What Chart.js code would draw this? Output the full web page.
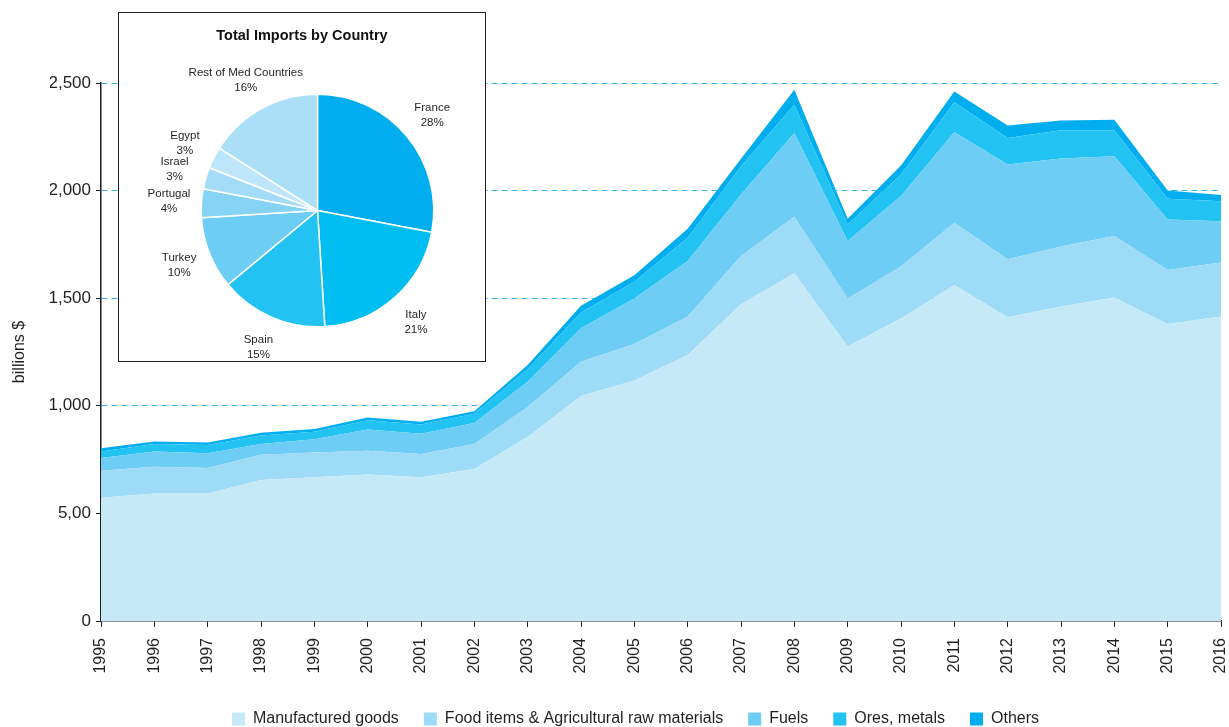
<!DOCTYPE html>
<html>
<head>
<meta charset="utf-8">
<title>Imports by product group</title>
<script src="https://cdn.jsdelivr.net/npm/chart.js@4.4.1/dist/chart.umd.min.js"></script>
<style>
    html, body { margin: 0; padding: 0; background: #fff; }
    #wrap { position: relative; width: 1229px; height: 727px; overflow: hidden; }
    #mainChart { position: absolute; left: 0; top: 0; }
    #pieBox {
        position: absolute; left: 118px; top: 12px;
        width: 366px; height: 348px;
        border: 1.5px solid #231f20; background: #fff;
    }
    #pieTitle {
        position: absolute; left: 0; top: 14px; width: 100%;
        text-align: center; font: bold 14.5px "Liberation Sans", Arial, sans-serif; color: #111;
    }
    #pieChart { position: absolute; left: 0; top: 0; }
</style>
</head>
<body>
<div id="wrap">
    <canvas id="mainChart" width="1229" height="727"></canvas>
    <div id="pieBox">
        <canvas id="pieChart" width="366" height="348"></canvas>
        <div id="pieTitle">Total Imports by Country</div>
    </div>
</div>
<script>
// stacked area: billions $
const years = ["1995", "1996", "1997", "1998", "1999", "2000", "2001", "2002", "2003", "2004", "2005",
    "2006", "2007", "2008", "2009", "2010", "2011", "2012", "2013", "2014", "2015", "2016"];
const manufactured = [573, 593, 593, 655, 668, 681, 668, 706, 855, 1045, 1117, 1236, 1472, 1616, 1276, 1406, 1561, 1411, 1462, 1503, 1380, 1415];
const foodAgri = [125, 124, 118, 118, 115, 110, 108, 116, 139, 160, 170, 179, 224, 263, 223, 241, 290, 270, 278, 286, 251, 251];
const fuels = [59, 71, 68, 49, 61, 99, 94, 98, 118, 155, 212, 258, 286, 389, 267, 328, 420, 440, 409, 371, 235, 191];
const oresMetals = [31, 34, 39, 40, 35, 43, 43, 43, 59, 74, 77, 108, 131, 131, 77, 100, 139, 124, 131, 120, 96, 94];
const others = [15, 12, 12, 13, 13, 13, 13, 12, 19, 31, 31, 42, 35, 70, 26, 42, 51, 57, 46, 49, 39, 29];
const yTickLabels = ["0", "5,00", "1,000", "1,500", "2,000", "2,500"];

// pie: share of total imports, %
const countries = ["France", "Italy", "Spain", "Turkey", "Portugal", "Israel", "Egypt", "Rest of Med Countries"];
const countryShares = [28, 21, 15, 10, 4, 3, 3, 16];

const FONT = '"Liberation Sans", Arial, sans-serif';
const INK = "#231f20";

const series = [
    { label: "Manufactured goods", data: manufactured, color: "#c6e9f8" },
    { label: "Food items & Agricultural raw materials", data: foodAgri, color: "#9ddbf6" },
    { label: "Fuels", data: fuels, color: "#6dcdf4" },
    { label: "Ores, metals", data: oresMetals, color: "#22c3f3" },
    { label: "Others", data: others, color: "#00aeef" }
];

new Chart(document.getElementById("mainChart"), {
    type: "line",
    data: {
        labels: years,
        datasets: series.map((s, i) => ({
            label: s.label,
            data: s.data,
            backgroundColor: s.color,
            borderColor: s.color,
            borderWidth: 0,
            pointRadius: 0,
            tension: 0,
            fill: i === 0 ? "origin" : "-1"
        }))
    },
    options: {
        responsive: false,
        animation: false,
        layout: { padding: { top: 83, right: 8, left: 50, bottom: -10 } },
        scales: {
            x: {
                offset: false,
                grid: { drawOnChartArea: false, drawTicks: true, tickLength: 6, tickColor: INK, tickWidth: 1 },
                border: { color: INK, width: 1.5 },
                ticks: {
                    autoSkip: false, minRotation: 90, maxRotation: 90, padding: 11,
                    color: INK, font: { family: FONT, size: 16 }
                },
                afterFit: (scale) => {
                    scale.height = 65;
                    scale.paddingLeft = 0;
                    scale.paddingRight = 0;
                }
            },
            y: {
                stacked: true,
                min: 0,
                max: 2500,
                grid: {
                    color: (ctx) => ctx.tick && ctx.tick.value >= 1000 ? "#3ab4e5" : "rgba(0,0,0,0)",
                    lineWidth: 1,
                    tickLength: 5,
                    tickColor: INK
                },
                border: { color: INK, width: 1.5, dash: [6, 4] },
                ticks: {
                    stepSize: 500,
                    padding: 5,
                    color: INK,
                    font: { family: FONT, size: 17 },
                    callback: (v, i) => yTickLabels[i]
                },
                title: {
                    display: true,
                    text: "billions $",
                    color: INK,
                    font: { family: FONT, size: 16 },
                    padding: { top: -40, bottom: 0 }
                },
                afterFit: (scale) => { scale.width = 51; }
            }
        },
        plugins: {
            legend: {
                position: "bottom",
                labels: {
                    boxWidth: 13,
                    boxHeight: 13,
                    padding: 25,
                    color: INK,
                    font: { family: FONT, size: 16 }
                }
            },
            tooltip: { enabled: false }
        }
    }
});

// labels sit outside the pie, on each slice's middle angle
const pieLabels = {
    id: "pieLabels",
    afterDatasetsDraw(chart) {
        const ctx = chart.ctx;
        const meta = chart.getDatasetMeta(0);
        ctx.save();
        ctx.font = "11.5px " + FONT;
        ctx.fillStyle = INK;
        ctx.textAlign = "center";
        ctx.textBaseline = "middle";
        meta.data.forEach((arc, i) => {
            const { x, y, startAngle, endAngle, outerRadius } =
                arc.getProps(["x", "y", "startAngle", "endAngle", "outerRadius"], true);
            const mid = (startAngle + endAngle) / 2;
            const lx = x + Math.cos(mid) * outerRadius * 1.28;
            const ly = y + Math.sin(mid) * outerRadius * 1.28;
            ctx.fillText(countries[i], lx, ly - 7.5);
            ctx.fillText(countryShares[i] + "%", lx, ly + 7.5);
        });
        ctx.restore();
    }
};

new Chart(document.getElementById("pieChart"), {
    type: "pie",
    data: {
        labels: countries,
        datasets: [{
            data: countryShares,
            backgroundColor: ["#00aeef", "#00bdf2", "#22c3f3", "#6dcdf4", "#85d4f6", "#a4dcf7", "#bde6fa", "#abdff8"],
            borderColor: "#fff",
            borderWidth: 1.5
        }]
    },
    options: {
        responsive: false,
        animation: false,
        layout: { padding: { left: 81.5, top: 80.5, right: 50.5, bottom: 33.5 } },
        plugins: {
            legend: { display: false },
            tooltip: { enabled: false }
        }
    },
    plugins: [pieLabels]
});
</script>
</body>
</html>
